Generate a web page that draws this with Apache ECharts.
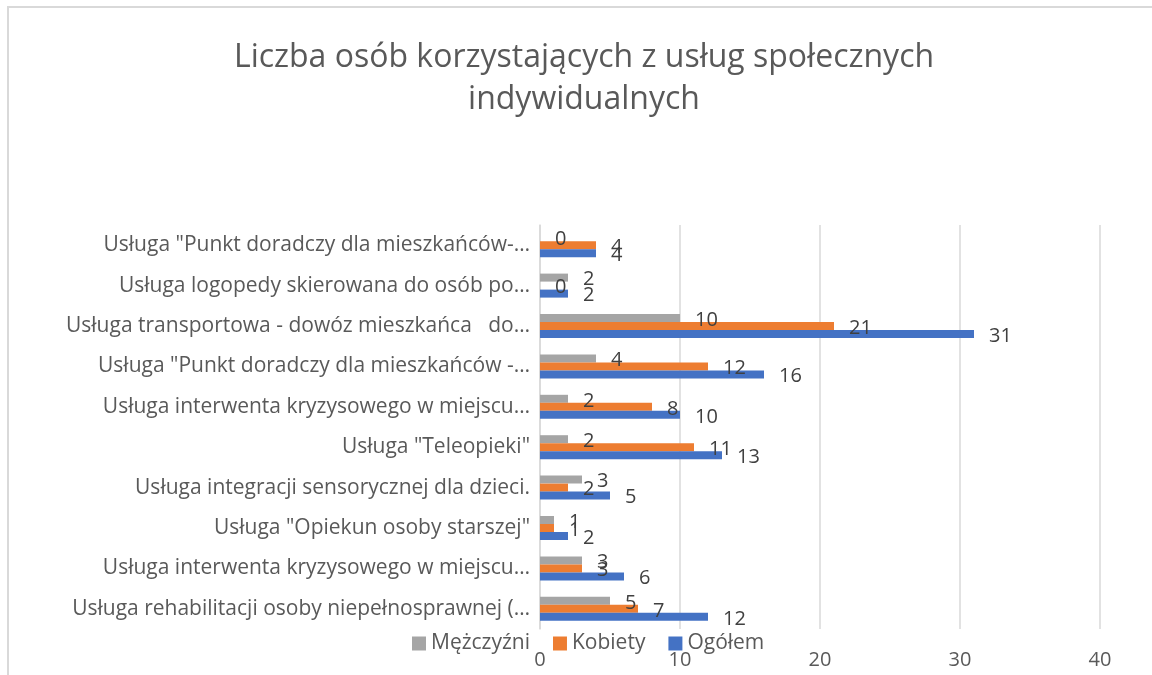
<!DOCTYPE html>
<html>
<head>
<meta charset="utf-8">
<script src="https://cdn.jsdelivr.net/npm/echarts@6/dist/echarts.min.js"></script>
<style>
  html, body { margin: 0; padding: 0; background: #fff; }
  #chart { width: 1152px; height: 675px; }
  #frame {
    position: absolute; left: 7px; top: 6px; width: 1200px; height: 700px;
    border-left: 2px solid #d9d9d9; border-top: 2px solid #d9d9d9;
    pointer-events: none;
  }
</style>
</head>
<body>
<div id="chart"></div>
<div id="frame"></div>
<script>
// categories listed bottom -> top
const categories = [
  'Usługa rehabilitacji osoby niepełnosprawnej (…',
  'Usługa interwenta kryzysowego w miejscu…',
  'Usługa "Opiekun osoby starszej"',
  'Usługa integracji sensorycznej dla dzieci.',
  'Usługa "Teleopieki"',
  'Usługa interwenta kryzysowego w miejscu…',
  'Usługa "Punkt doradczy dla mieszkańców -…',
  'Usługa transportowa - dowóz mieszkańca   do…',
  'Usługa logopedy skierowana do osób po…',
  'Usługa "Punkt doradczy dla mieszkańców-…'
];
const mezczyzni = [5, 3, 1, 3, 2, 2, 4, 10, 2, 0];
const kobiety   = [7, 3, 1, 2, 11, 8, 12, 21, 0, 4];
const ogolem    = [12, 6, 2, 5, 13, 10, 16, 31, 2, 4];
const legendNames = ['Mężczyźni', 'Kobiety', 'Ogółem'];

const font = 'Open Sans';
let myChart = echarts.init(document.getElementById('chart'));

function barSeries(name, data, color) {
  return {
    name: name,
    type: 'bar',
    data: data,
    barWidth: 8,
    barGap: '0%',
    itemStyle: { color: color },
    label: {
      show: true,
      position: 'right',
      distance: 15,
      offset: [0, 2],
      color: '#404040',
      fontSize: 20,
      fontFamily: font
    }
  };
}

let option = {
  animation: false,
  title: {
    text: 'Liczba osób korzystających z usług społecznych\nindywidualnych',
    left: 584,
    textAlign: 'center',
    top: 37,
    padding: 0,
    textStyle: {
      color: '#595959',
      fontSize: 32,
      fontWeight: 'normal',
      fontFamily: font,
      lineHeight: 42
    }
  },
  legend: {
    data: legendNames,
    left: 407,
    top: 628,
    icon: 'rect',
    itemWidth: 14,
    itemHeight: 14,
    itemGap: 23,
    textStyle: { color: '#595959', fontSize: 21, fontFamily: font }
  },
  grid: {
    left: 540,
    right: 52,
    top: 225,
    bottom: 46,
    containLabel: false,
    outerBoundsMode: 'none'
  },
  xAxis: {
    type: 'value',
    min: 0,
    max: 40,
    interval: 10,
    axisLine: { show: false },
    axisTick: { show: false },
    splitLine: { lineStyle: { color: '#d9d9d9', width: 1.5 } },
    axisLabel: { color: '#595959', fontSize: 20, fontFamily: font, margin: 21 }
  },
  yAxis: {
    type: 'category',
    data: categories,
    axisLine: { lineStyle: { color: '#d9d9d9', width: 1.5 } },
    axisTick: { show: false },
    axisLabel: { color: '#595959', fontSize: 21, fontFamily: font, margin: 10 }
  },
  series: [
    barSeries('Mężczyźni', mezczyzni, '#A5A5A5'),
    barSeries('Kobiety', kobiety, '#ED7D31'),
    barSeries('Ogółem', ogolem, '#4472C4')
  ]
};

option && myChart.setOption(option);
</script>
</body>
</html>
